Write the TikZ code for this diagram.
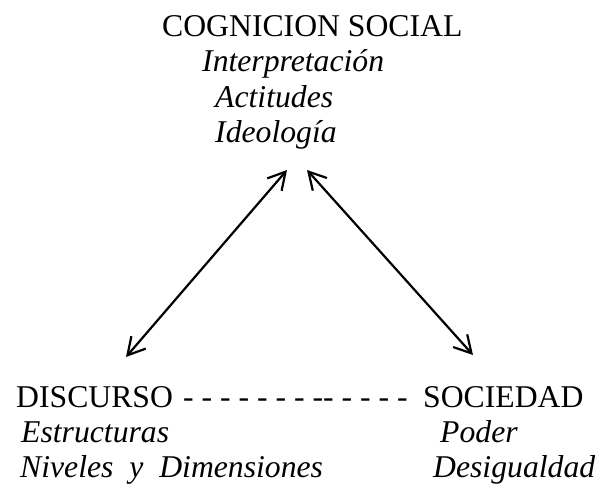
\documentclass[tikz,border=0pt]{standalone}
\usepackage{fontspec}
\setmainfont{Liberation Serif}
\usetikzlibrary{arrows.meta}

\tikzset{
    txt/.style={anchor=base west, inner sep=0pt, font=\fontsize{31.7}{35}\selectfont},
    itxt/.style={txt, font=\fontsize{31.7}{35}\selectfont\itshape},
    link/.style={line width=2.2pt, {Straight Barb[length=17pt,width=19pt]}-{Straight Barb[length=17pt,width=19pt]}}
}

\begin{document}
\begin{tikzpicture}[x=1pt,y=-1pt]

    \useasboundingbox (0,0) rectangle (605,485);

    % cognicion social
    \node[txt]  (cog)   at (162,36)  {COGNICION SOCIAL};
    \node[itxt] (interp) at (202,71)  {Interpretación};
    \node[itxt] (actit) at (215,107) {Actitudes};
    \node[itxt] (ideol) at (215,142) {Ideología};

    % discurso
    \node[txt]  (disc)  at (16,407)  {DISCURSO};
    \node[itxt] (estr)  at (21,442)  {Estructuras};
    \node[itxt] (niv)   at (20,477)  {Niveles\ \ y\ \ Dimensiones};

    % sociedad
    \node[txt]  (soc)   at (423,407) {SOCIEDAD};
    \node[itxt] (pod)   at (440,442) {Poder};
    \node[itxt] (desig) at (433,477) {Desigualdad};

    % guiones
    \node[txt]  (guion) at (183,407) {- - - - - - - -{}- - - - -};

    \coordinate (a1) at (126,357);
    \coordinate (a2) at (287,170);
    \coordinate (b1) at (307,170);
    \coordinate (b2) at (473,355);

    \draw[link] (a1) -- (a2);
    \draw[link] (b1) -- (b2);

\end{tikzpicture}
\end{document}
